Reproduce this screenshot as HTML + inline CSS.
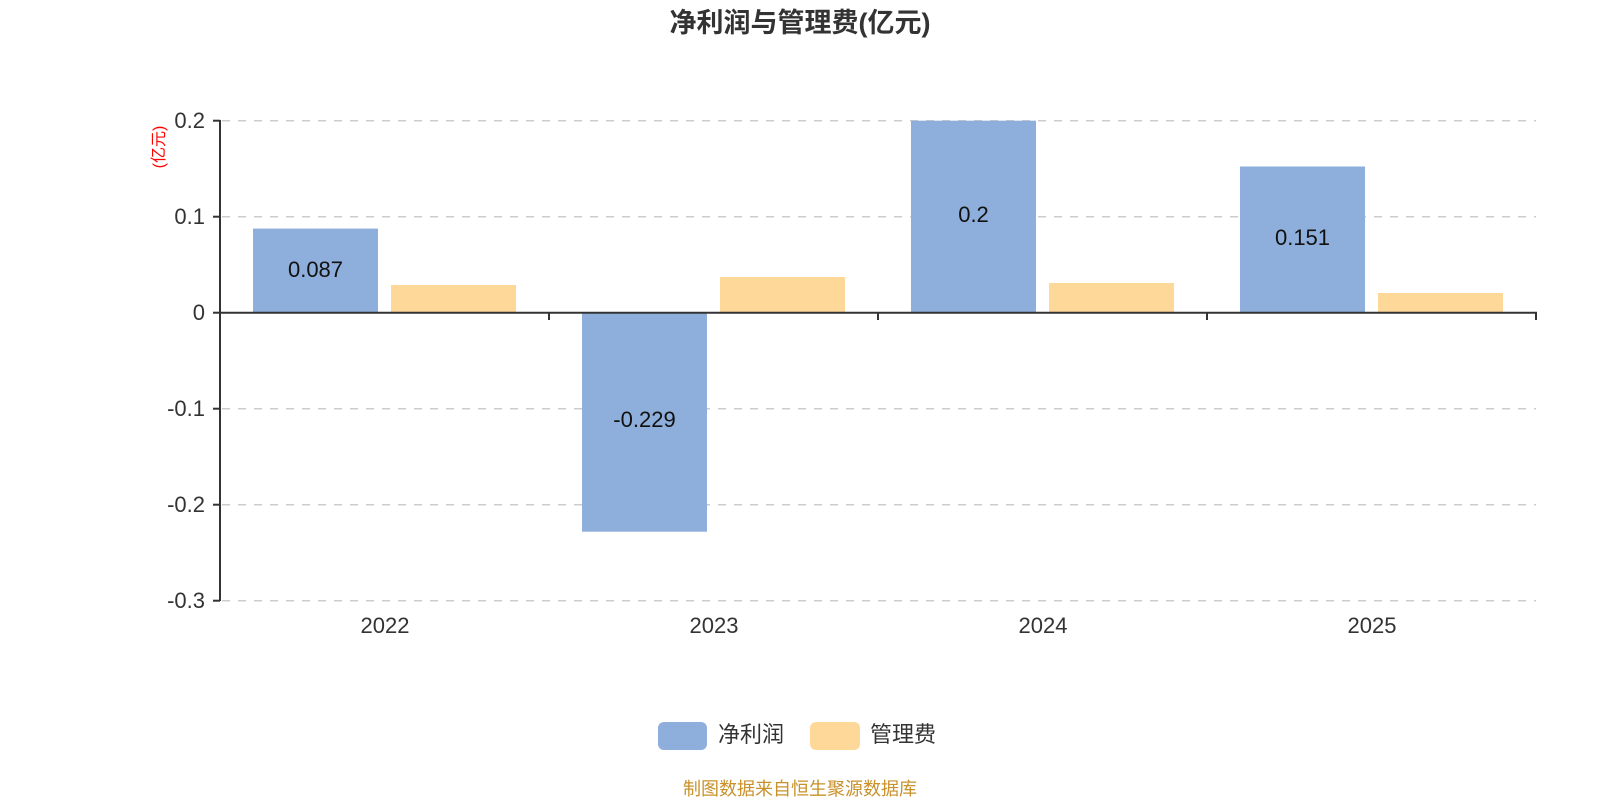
<!DOCTYPE html>
<html><head><meta charset="utf-8"><style>
html,body{margin:0;padding:0;background:#fff;width:1600px;height:800px;overflow:hidden}
text{font-family:"Liberation Sans","Noto Sans CJK SC",sans-serif}
</style></head><body>
<svg width="1600" height="800" xmlns="http://www.w3.org/2000/svg">
<text x="800" y="32" text-anchor="middle" font-size="27" font-weight="bold" fill="#333">净利润与管理费(亿元)</text>
<g stroke="#ccc" stroke-width="1.5" stroke-dasharray="8,8">
<line x1="222" y1="120.7" x2="1536" y2="120.7"/>
<line x1="222" y1="216.7" x2="1536" y2="216.7"/>
<line x1="222" y1="408.7" x2="1536" y2="408.7"/>
<line x1="222" y1="504.7" x2="1536" y2="504.7"/>
<line x1="222" y1="600.7" x2="1536" y2="600.7"/>
</g>
<rect x="253" y="228.6" width="125" height="84.1" fill="#8eaedb"/>
<rect x="391" y="285" width="125" height="27.7" fill="#fed898"/>
<rect x="582" y="312.7" width="125" height="219" fill="#8eaedb"/>
<rect x="720" y="277" width="125" height="35.7" fill="#fed898"/>
<rect x="911" y="120.7" width="125" height="192" fill="#8eaedb"/>
<rect x="1049" y="283" width="125" height="29.7" fill="#fed898"/>
<rect x="1240" y="166.5" width="125" height="146.2" fill="#8eaedb"/>
<rect x="1378" y="293" width="125" height="19.7" fill="#fed898"/>
<g font-size="22" fill="#111" text-anchor="middle">
<text x="315.5" y="277">0.087</text>
<text x="644.5" y="427">-0.229</text>
<text x="973.5" y="222">0.2</text>
<text x="1302.5" y="245">0.151</text>
</g>
<g stroke="#333" stroke-width="2">
<line x1="220" y1="120" x2="220" y2="601"/>
<line x1="220" y1="312.7" x2="1537" y2="312.7"/>
<line x1="213" y1="120.7" x2="220" y2="120.7"/>
<line x1="213" y1="216.7" x2="220" y2="216.7"/>
<line x1="213" y1="312.7" x2="220" y2="312.7"/>
<line x1="213" y1="408.7" x2="220" y2="408.7"/>
<line x1="213" y1="504.7" x2="220" y2="504.7"/>
<line x1="213" y1="600.7" x2="220" y2="600.7"/>
<line x1="549" y1="312.7" x2="549" y2="320"/>
<line x1="878" y1="312.7" x2="878" y2="320"/>
<line x1="1207" y1="312.7" x2="1207" y2="320"/>
<line x1="1536" y1="312.7" x2="1536" y2="320"/>
</g>
<g font-size="22" fill="#333" text-anchor="end">
<text x="205" y="128">0.2</text>
<text x="205" y="224">0.1</text>
<text x="205" y="320">0</text>
<text x="205" y="416">-0.1</text>
<text x="205" y="512">-0.2</text>
<text x="205" y="608">-0.3</text>
</g>
<text transform="translate(164,147) rotate(-90)" text-anchor="middle" font-size="16" fill="#f00">(亿元)</text>
<g font-size="22" fill="#333" text-anchor="middle">
<text x="385" y="633">2022</text>
<text x="714" y="633">2023</text>
<text x="1043" y="633">2024</text>
<text x="1372" y="633">2025</text>
</g>
<rect x="658" y="722" width="49" height="28" rx="6" fill="#8eaedb"/>
<text x="718" y="742" font-size="22" fill="#333">净利润</text>
<rect x="810" y="722" width="50" height="28" rx="6" fill="#fed898"/>
<text x="870" y="742" font-size="22" fill="#333">管理费</text>
<text x="800" y="795" text-anchor="middle" font-size="18" fill="#c8912a">制图数据来自恒生聚源数据库</text>
</svg>
</body></html>
